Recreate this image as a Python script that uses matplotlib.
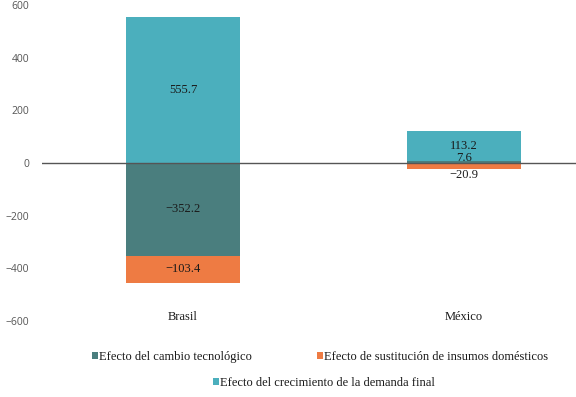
import matplotlib
matplotlib.use("Agg")
import matplotlib.pyplot as plt
from matplotlib.patches import Patch
import matplotlib.transforms as mtransforms
import numpy as np

categories = ["Brasil", "México"]
series_names = ["Efecto del cambio tecnológico",
                "Efecto de sustitución de insumos domésticos",
                "Efecto del crecimiento de la demanda final"]
tech = [-352.2, 7.6]
subst = [-103.4, -20.9]
demand = [555.7, 113.2]
yticks = [-600, -400, -200, 0, 200, 400, 600]

colors = ["#4a7e7e", "#ee7b43", "#4bafbd"]
serif = "Liberation Serif"

fig = plt.figure(figsize=(5.76, 3.97), dpi=100)
ax = fig.add_axes([42/576, 1 - 321/397, 1 - 42/576, (321 - 5)/397])

x = np.arange(len(categories))
w = 0.405
series = [tech, subst, demand]
pos_base = np.zeros(len(categories))
neg_base = np.zeros(len(categories))
for vals, col, name in zip(series, colors, series_names):
    vals = np.array(vals)
    bottoms = np.where(vals >= 0, pos_base, neg_base)
    ax.bar(x, vals, w, bottom=bottoms, color=col, label=name, zorder=2)
    for i, v in enumerate(vals):
        lab = ("−" if v < 0 else "") + f"{abs(v):.1f}"
        if abs(v) >= 50:
            ax.text(x[i], bottoms[i] + v / 2, lab, ha="center", va="center",
                    fontsize=9, family=serif, color="#1a1a1a", zorder=4)
        elif v >= 0:
            ax.text(x[i], bottoms[i] + v, lab, ha="center", va="baseline",
                    fontsize=9, family=serif, color="#1a1a1a", zorder=4)
        else:
            ax.text(x[i], bottoms[i] + v, lab, ha="center", va="top",
                    fontsize=9, family=serif, color="#1a1a1a", zorder=4)
    pos_base = pos_base + np.where(vals >= 0, vals, 0)
    neg_base = neg_base + np.where(vals < 0, vals, 0)

ax.axhline(0, color="#555555", lw=1.0, zorder=3)
ax.set_ylim(-600, 600)
ax.set_xlim(-0.502, 1.399)
ax.set_yticks(yticks)
ax.set_yticklabels([("−" if t < 0 else "") + str(abs(t)) for t in yticks],
                   family="Open Sans", fontsize=7.5, color="#555555")
ax.tick_params(axis="y", length=0, pad=9)
ax.set_xticks([])
for s in ax.spines.values():
    s.set_visible(False)

trans = mtransforms.blended_transform_factory(ax.transData, ax.transAxes)
for i, c in enumerate(categories):
    ax.text(x[i], 4/316, c, transform=trans, ha="center", va="center",
            fontsize=9, family=serif, color="#1a1a1a")

handles = [Patch(facecolor=c, edgecolor="none") for c in colors]
leg_kw = dict(frameon=False, prop={"family": serif, "size": 9},
              handlelength=0.5, handleheight=0.5, handletextpad=0.1,
              labelcolor="#1a1a1a")
leg1 = fig.legend(handles[:2], series_names[:2], ncol=2, loc="center",
                  bbox_to_anchor=(320/576, 1 - 357/397), columnspacing=5.2, **leg_kw)
leg2 = fig.legend(handles[2:], series_names[2:], loc="center",
                  bbox_to_anchor=(324/576, 1 - 383/397), **leg_kw)

fig.savefig("out.png", dpi=100)
